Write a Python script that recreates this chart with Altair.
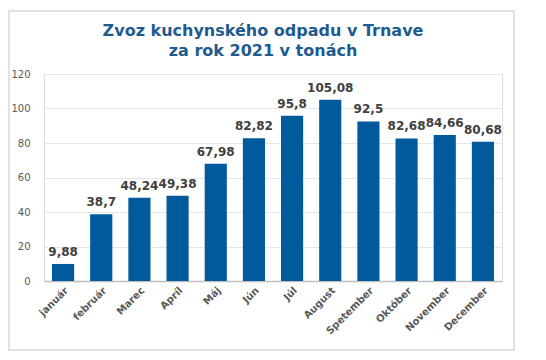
import altair as alt
import pandas as pd

months = ["január", "február", "Marec", "Apríl", "Máj", "Jún", "Júl", "August",
          "Spetember", "Október", "November", "December"]
values = [9.88, 38.7, 48.24, 49.38, 67.98, 82.82, 95.8, 105.08, 92.5, 82.68, 84.66, 80.68]
labels = ["9,88", "38,7", "48,24", "49,38", "67,98", "82,82", "95,8", "105,08",
          "92,5", "82,68", "84,66", "80,68"]

df = pd.DataFrame({"month": months, "value": values, "label": labels})

FONT = "DejaVu Sans"

x = alt.X("month:N", sort=months, title=None,
          scale=alt.Scale(paddingInner=0.42, paddingOuter=0.21),
          axis=alt.Axis(labelAngle=-45, labelAlign="right", labelBaseline="top",
                        labelFont=FONT, labelFontWeight="bold", labelFontSize=10,
                        labelColor="#595959", ticks=False, domainColor="#BFBFBF",
                        domainWidth=1.5, labelPadding=4))
y = alt.Y("value:Q", title=None,
          scale=alt.Scale(domain=[0, 120], nice=False),
          axis=alt.Axis(values=[0, 20, 40, 60, 80, 100, 120], labelFont=FONT,
                        labelFontSize=10, labelColor="#595959", ticks=False,
                        domain=False, gridColor="#E6E6E6", labelPadding=14))

base = alt.Chart(df)

border = base.mark_rect(fill=None, stroke="#D9D9D9", strokeWidth=1.5, clip=False).encode(
    x=alt.value(-35), x2=alt.value(470), y=alt.value(-63), y2=alt.value(276)
).transform_filter("datum.month == 'január'")

bars = base.mark_bar(color="#005A9C").encode(x=x, y=y)
text = base.mark_text(baseline="bottom", dy=-5, font=FONT, fontWeight="bold",
                      fontSize=12, color="#404040").encode(x=x, y=y, text="label:N")

chart = alt.layer(border, bars, text).properties(
    width=458, height=207,
    title=alt.TitleParams(["Zvoz kuchynského odpadu v Trnave", "za rok 2021 v tonách"],
                          font=FONT, fontSize=16, fontWeight="bold", color="#1F5B8E",
                          anchor="middle", offset=-49, lineHeight=20, dx=-10),
    padding={"left": 0, "top": 2, "right": 5, "bottom": 5},
).configure_view(stroke=None).configure(background="white")

chart.save("out.html", embed_options={"renderer": "svg", "actions": False})
